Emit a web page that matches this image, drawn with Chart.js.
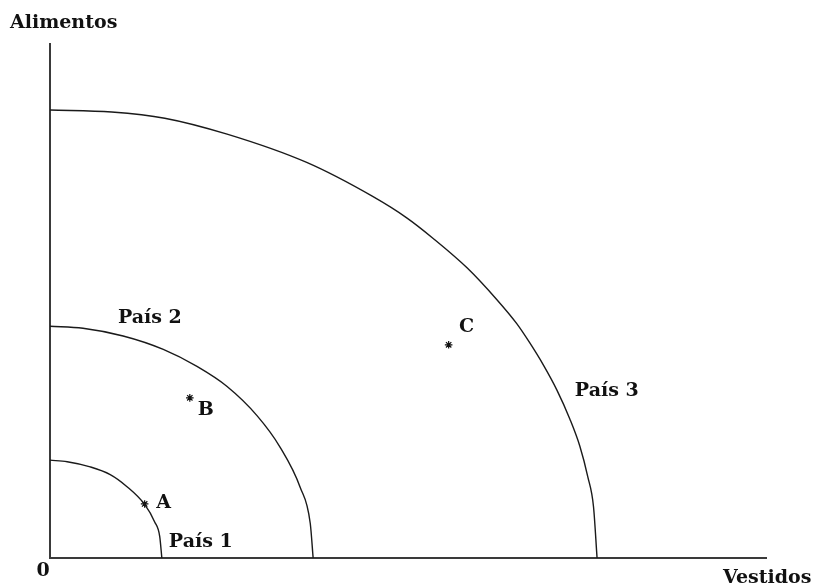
<!DOCTYPE html>
<html>
<head>
<meta charset="utf-8">
<script src="https://cdn.jsdelivr.net/npm/chart.js@4/dist/chart.umd.min.js"></script>
<style>
html,body{margin:0;padding:0;background:#fff;}
canvas{display:block;}
</style>
</head>
<body>
<canvas id="c" width="815" height="587"></canvas>
<script>
// ---- Data (x = Vestidos, y = Alimentos, 0..100 scale) ----
const xAxisLabel = 'Vestidos';
const yAxisLabel = 'Alimentos';
const originLabel = '0';

const curveNames = ['País 1', 'País 2', 'País 3'];

const pais1X = [0, 2.4, 5.6, 8.4, 10.7, 13.2, 14.6, 15.3, 15.6];
const pais1Y = [19.0, 18.7, 17.7, 16.2, 13.9, 10.4, 7.0, 4.2, 0];

const pais2X = [0, 4.6, 10.2, 15.8, 20.5, 24.7, 28.9, 32.1, 34.9, 36.3, 36.7];
const pais2Y = [45.0, 44.6, 43.1, 40.5, 37.2, 33.3, 27.6, 21.5, 13.7, 6.7, 0];

const pais3X = [0, 8.6, 16.0, 24.7, 35.8, 45.0, 49.8, 53.4, 58.2, 62.3, 65.1, 66.9, 68.8, 70.7, 72.5, 73.9, 75.0, 75.8, 76.3];
const pais3Y = [87.0, 86.6, 85.4, 82.3, 76.8, 70.2, 66.0, 62.1, 56.3, 50.2, 45.5, 41.8, 37.5, 32.6, 27.0, 21.7, 15.8, 10.0, 0];

const pointNames = ['A', 'B', 'C'];
const pointX = [13.2, 19.5, 55.6];
const pointY = [10.5, 31.1, 41.4];

// ---- build datasets ----
function zip(xs, ys){ return xs.map((x,i)=>({x:x, y:ys[i]})); }
const curveStyle = {showLine:true, pointRadius:0, borderColor:'#1a1a1a', borderWidth:1.4, cubicInterpolationMode:'monotone', fill:false};

const textColor = '#111';
const font = 'bold 19px "DejaVu Serif"';

// label placement (pixel offsets, styling only)
const pointLabelOffsets = [[19,-1],[16,12],[18,-18]];
// curve label anchors in data units + pixel shift
const curveLabelAnchors = [
  {x: pais1X[pais1X.length-1], y: 0, dx: 7, dy: -16},
  {x: pais2X[0], y: pais2Y[0], dx: 68, dy: -8},
  {x: pais3X[15], y: pais3Y[15], dx: -5, dy: -55}
];

const labelsPlugin = {
  id: 'labels',
  beforeDatasetsDraw(chart){
    const {ctx, chartArea: a, scales:{x, y}} = chart;
    const x0 = x.getPixelForValue(0), y0 = y.getPixelForValue(0);
    ctx.save();
    ctx.strokeStyle = '#3a3a3a';
    ctx.lineWidth = 2;
    ctx.beginPath();
    ctx.moveTo(x0, a.top);
    ctx.lineTo(x0, y0);
    ctx.lineTo(a.right, y0);
    ctx.stroke();
    ctx.restore();
  },
  afterDatasetsDraw(chart){
    const {ctx, chartArea: a, scales:{x, y}} = chart;
    ctx.save();
    ctx.fillStyle = textColor;
    ctx.font = font;
    ctx.textBaseline = 'middle';
    ctx.textAlign = 'left';
    // axis titles
    ctx.fillText(yAxisLabel, a.left - 40, a.top - 20);
    ctx.fillText(xAxisLabel, a.right - 44, a.bottom + 20);
    ctx.textAlign = 'center';
    ctx.fillText(originLabel, a.left - 7, a.bottom + 13);
    // curve labels
    ctx.textAlign = 'left';
    curveNames.forEach((n,i)=>{
      const c = curveLabelAnchors[i];
      ctx.fillText(n, x.getPixelForValue(c.x) + c.dx, y.getPixelForValue(c.y) + c.dy);
    });
    // point labels
    ctx.textAlign = 'center';
    pointNames.forEach((n,i)=>{
      const o = pointLabelOffsets[i];
      ctx.fillText(n, x.getPixelForValue(pointX[i]) + o[0], y.getPixelForValue(pointY[i]) + o[1]);
    });
    ctx.restore();
  }
};

new Chart(document.getElementById('c'), {
  type: 'scatter',
  data: {
    datasets: [
      Object.assign({label: curveNames[0], data: zip(pais1X, pais1Y)}, curveStyle),
      Object.assign({label: curveNames[1], data: zip(pais2X, pais2Y)}, curveStyle),
      Object.assign({label: curveNames[2], data: zip(pais3X, pais3Y)}, curveStyle),
      {label: 'Puntos', data: zip(pointX, pointY), showLine:false, pointStyle:'star', pointRadius:3.8, borderColor:'#111', borderWidth:1.2, backgroundColor:'#111'}
    ]
  },
  options: {
    responsive: false,
    devicePixelRatio: 1,
    animation: false,
    layout: {padding: {left: 50, right: 48, top: 43, bottom: 29}},
    plugins: {legend: {display:false}, tooltip: {enabled:false}},
    scales: {
      x: {type:'linear', min:0, max:100, display:false},
      y: {type:'linear', min:0, max:100, display:false}
    }
  },
  plugins: [labelsPlugin]
});
</script>
</body>
</html>
